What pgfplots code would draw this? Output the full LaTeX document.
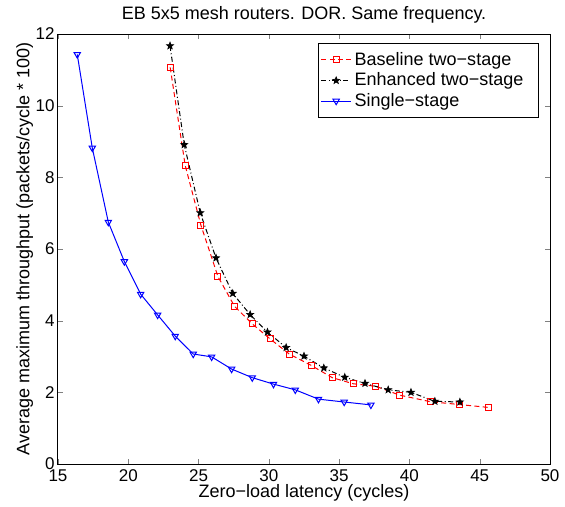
\documentclass[border=0pt]{standalone}
\usepackage{fontspec}
\setmainfont{Liberation Sans}
\usepackage{pgfplots}
\pgfplotsset{compat=1.18}
\pgfdeclareplotmark{fstar}{%
  \pgfpathmoveto{\pgfpointpolar{90}{\pgfplotmarksize}}%
  \pgfpathlineto{\pgfpointpolar{126}{0.42\pgfplotmarksize}}%
  \pgfpathlineto{\pgfpointpolar{162}{\pgfplotmarksize}}%
  \pgfpathlineto{\pgfpointpolar{198}{0.42\pgfplotmarksize}}%
  \pgfpathlineto{\pgfpointpolar{234}{\pgfplotmarksize}}%
  \pgfpathlineto{\pgfpointpolar{270}{0.42\pgfplotmarksize}}%
  \pgfpathlineto{\pgfpointpolar{306}{\pgfplotmarksize}}%
  \pgfpathlineto{\pgfpointpolar{342}{0.42\pgfplotmarksize}}%
  \pgfpathlineto{\pgfpointpolar{18}{\pgfplotmarksize}}%
  \pgfpathlineto{\pgfpointpolar{54}{0.42\pgfplotmarksize}}%
  \pgfpathclose
  \pgfusepathqfillstroke}
\begin{document}
\begin{tikzpicture}
\begin{axis}[
  width=295.2pt, height=258pt, scale only axis,
  xmin=15, xmax=50, ymin=0, ymax=12,
  xtick={15,20,...,50}, ytick={0,2,...,12},
  tick align=inside, major tick length=3pt,
  /pgf/number format/assume math mode=true,
  tick label style={font=\fontsize{10.2}{12}\selectfont},
  yticklabel style={xshift=1.5pt},
  label style={font=\fontsize{10.8}{13}\selectfont},
  title style={font=\fontsize{10.8}{13}\selectfont, yshift=-3pt},
  title={EB 5x5 mesh routers. DOR. Same frequency.},
  xlabel={Zero−load latency (cycles)},
  ylabel={Average maximum throughput (packets/cycle * 100)},
  xlabel style={yshift=5.4pt},
  ylabel style={yshift=-5.3pt},
  axis line style={line width=0.6pt},
  legend image code/.code={\draw[mark repeat=2,mark phase=2,#1] plot coordinates {(0cm,0cm) (0.31cm,0cm) (0.62cm,0cm)};},
  legend style={at={(0.978,0.979)}, anchor=north east, draw=black, line width=0.6pt,
    font=\fontsize{10.8}{13}\selectfont, inner xsep=1.2pt, inner ysep=3.2pt, row sep=-1pt, cells={anchor=west}},
]
\addplot[red, line width=0.6pt, dash pattern=on 3pt off 2pt, mark=square, mark size=1.8pt, mark options={solid}]
coordinates {
(22.98,11.07)(24.05,8.33)(25.17,6.66)(26.38,5.23)(27.56,4.40)(28.82,3.91)(30.09,3.49)(31.45,3.07)
(33.02,2.75)(34.51,2.41)(36.00,2.24)(37.60,2.17)(39.32,1.92)(41.48,1.74)(43.54,1.66)(45.60,1.58)
};
\addlegendentry{Baseline two−stage}
\addplot[black, line width=0.6pt, dash pattern=on 3pt off 1.5pt on 0.6pt off 1.5pt, mark=fstar, mark size=2.2pt, mark options={solid, fill=black, line width=0.4pt}]
coordinates {
(22.97,11.67)(23.98,8.91)(25.12,7.01)(26.24,5.75)(27.43,4.76)(28.67,4.17)(29.90,3.68)(31.23,3.25)
(32.50,3.01)(33.91,2.68)(35.40,2.42)(36.84,2.25)(38.49,2.07)(40.11,2.00)(41.81,1.75)(43.59,1.73)
};
\addlegendentry{Enhanced two−stage\hspace*{6pt}}
\addplot[blue, line width=0.6pt, mark=triangle, mark size=2.2pt, mark options={solid, rotate=180}]
coordinates {
(16.37,11.43)(17.44,8.82)(18.58,6.75)(19.72,5.65)(20.88,4.74)(22.09,4.16)(23.34,3.57)(24.62,3.07)
(25.93,2.99)(27.35,2.65)(28.82,2.41)(30.33,2.23)(31.88,2.07)(33.53,1.81)(35.36,1.73)(37.26,1.65)
};
\addlegendentry{Single−stage}
\end{axis}
\pgfresetboundingbox
\path[use as bounding box] ([shift={(-34.8pt,-25.2pt)}]current axis.south west) rectangle ++(339pt,303.6pt);
\end{tikzpicture}
\end{document}
